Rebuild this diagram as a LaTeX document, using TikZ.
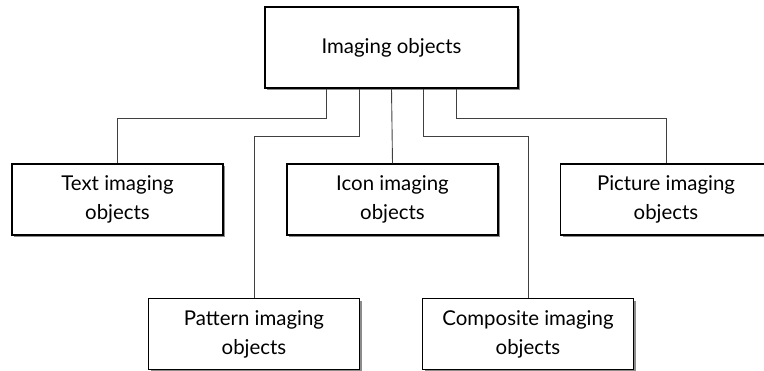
\documentclass[tikz,border=0pt]{standalone}
\usepackage{fontspec}
\setmainfont{Lato}
\usetikzlibrary{positioning, calc, shadows}
\tikzset{
  objbox/.style={
    draw=black,
    fill=white,
    line width=1.3pt,
    align=center,
    inner sep=0pt,
    minimum width=211bp,
    minimum height=71bp,
    font=\fontsize{20.5}{29}\selectfont,
    drop shadow={shadow xshift=2.2bp, shadow yshift=-2.2bp, fill=black!45, opacity=1},
  },
  rootbox/.style={
    objbox,
    minimum width=253bp,
    minimum height=81bp,
  },
  conn/.style={draw=black!75, line width=0.9pt},
}

\begin{document}
\begin{tikzpicture}[x=1bp, y=-1bp]

\useasboundingbox (0,0) rectangle (764,370);

% --- Root ---
\node[rootbox] (imaging) at (391.5, 47.5) {Imaging objects};

% --- Upper row ---
\node[objbox] (textobj) at (117.5, 199.5) {Text imaging\\objects};
\node[objbox] (iconobj) at (392.5, 199.5) {Icon imaging\\objects};
\node[objbox] (pictobj) at (666, 199.5) {Picture imaging\\objects};

% --- Lower row ---
\node[objbox] (patobj) at (254, 334) {Pattern imaging\\objects};
\node[objbox] (compobj) at (528, 334) {Composite imaging\\objects};

% --- Connectors ---
\draw[conn] ($(imaging.south)+(-65,0)$) -- ++(0,30) -| (textobj.north);
\draw[conn] ($(imaging.south)+(-32,0)$) -- ++(0,48) -| (patobj.north);
\draw[conn] (imaging.south) -- (iconobj.north);
\draw[conn] ($(imaging.south)+(32,0)$) -- ++(0,48) -| (compobj.north);
\draw[conn] ($(imaging.south)+(65,0)$) -- ++(0,30) -| (pictobj.north);

\end{tikzpicture}
\end{document}
